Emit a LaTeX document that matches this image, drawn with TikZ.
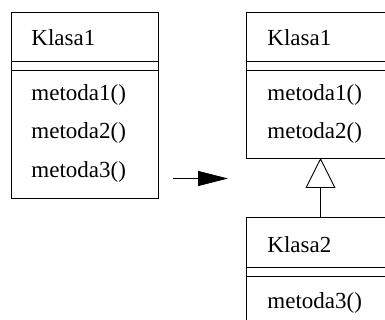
\documentclass[tikz,border=0pt]{standalone}
\usepackage{fontspec}
\setmainfont{Liberation Serif}
\usetikzlibrary{arrows.meta}
\begin{document}
\begin{tikzpicture}[x=1pt,y=-1pt,line width=0.9pt,
  box/.style={draw,rectangle,inner sep=0pt,anchor=north west},
  txt/.style={anchor=base west,inner sep=0pt,font=\fontsize{23}{23}\selectfont},
  sep/.style={line width=0.9pt}]
\useasboundingbox (0,0) rectangle (385,320);
% left box
\node[box,minimum width=147pt,minimum height=186pt] (L) at (11,12) {};
\draw[sep] (11,61) -- (158,61) (11,70) -- (158,70);
\node[txt] (Lname) at (31,46) {Klasa1};
\node[txt] (Lm1) at (31,101) {metoda1()};
\node[txt] (Lm2) at (31,139) {metoda2()};
\node[txt] (Lm3) at (31,178) {metoda3()};
% right top box
\node[box,minimum width=149pt,minimum height=146pt] (R1) at (246,12) {};
\draw[sep] (246,61) -- (395,61) (246,70) -- (395,70);
\node[txt] (R1name) at (267,46) {Klasa1};
\node[txt] (R1m1) at (267,101) {metoda1()};
\node[txt] (R1m2) at (267,139) {metoda2()};
% right bottom box
\node[box,minimum width=149pt,minimum height=120pt] (R2) at (246,217) {};
\draw[sep] (246,267) -- (395,267) (246,276) -- (395,276);
\node[txt] (R2name) at (267,252) {Klasa2};
\node[txt] (R2m3) at (267,308) {metoda3()};
% inheritance
\coordinate (inhA) at (320.5,217);
\coordinate (inhB) at (320.5,158);
\draw[-{Triangle[open,length=30pt,width=30pt,fill=white]}] (inhA) -- (inhB);
% transformation arrow
\coordinate (arA) at (173,178.5);
\coordinate (arB) at (228,178.5);
\draw[-{Triangle[length=30pt,width=15pt]}] (arA) -- (arB);
\end{tikzpicture}
\end{document}
